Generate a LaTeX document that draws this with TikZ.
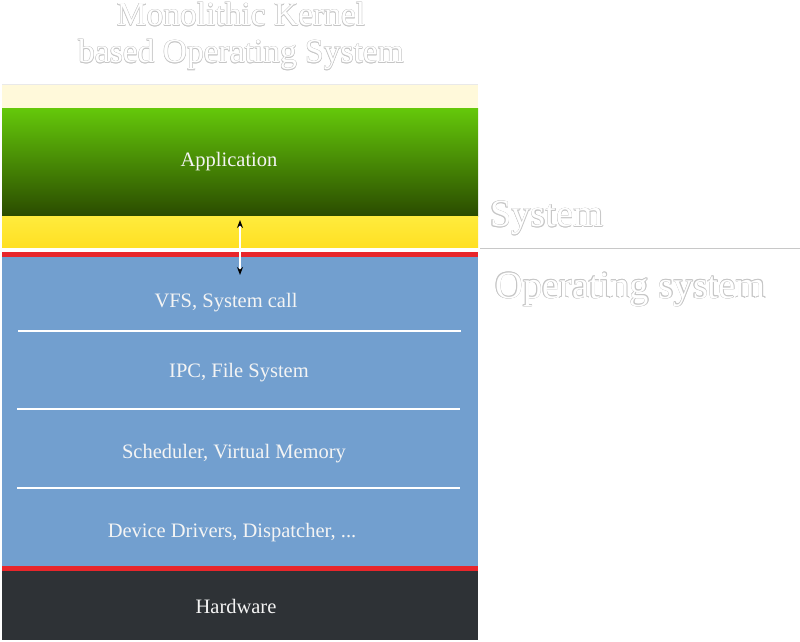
\documentclass[tikz,border=0pt]{standalone}
\usepackage{fontspec}
\setmainfont{Liberation Serif}
\usetikzlibrary{arrows.meta}
\definecolor{paleyel}{HTML}{FFF9DA}
\definecolor{greentop}{HTML}{64C70A}
\definecolor{greenbot}{HTML}{2A4A00}
\definecolor{yeltop}{HTML}{FFEB3C}
\definecolor{yelbot}{HTML}{FFE024}
\definecolor{osblue}{HTML}{729FCF}
\definecolor{osred}{HTML}{E8262B}
\definecolor{hwdark}{HTML}{2E3236}
\definecolor{txtwhite}{HTML}{F4F4F4}
\definecolor{olgray}{HTML}{C6C6C6}
\definecolor{sepgray}{HTML}{C8C8C8}
\newcommand{\olcopy}[3]{\rlap{\kern#1\raise#2\hbox{\color{olgray}#3}}}
\newcommand{\olt}[1]{\leavevmode
 \olcopy{0.45pt}{0pt}{#1}\olcopy{-0.45pt}{0pt}{#1}%
 \olcopy{0pt}{0.45pt}{#1}\olcopy{0pt}{-0.45pt}{#1}%
 \olcopy{0.32pt}{0.32pt}{#1}\olcopy{-0.32pt}{0.32pt}{#1}%
 \olcopy{0.32pt}{-0.32pt}{#1}\olcopy{-0.32pt}{-0.32pt}{#1}%
 \hbox{\color{white}#1}}
\tikzset{
  layer/.style={draw=none, inner sep=0pt, outer sep=0pt, anchor=south west, minimum width=476pt},
  lbl/.style={inner sep=0pt, anchor=base, text=txtwhite, font=\fontsize{20.5}{24}\selectfont},
  bigol/.style={inner sep=0pt, anchor=base west, font=\fontsize{38.5}{44}\selectfont},
  titleol/.style={inner sep=0pt, anchor=base, font=\fontsize{33.5}{38}\selectfont},
  sepline/.style={draw=white, line width=1.3pt},
}
\begin{document}
\begin{tikzpicture}[x=1pt,y=1pt]
\useasboundingbox (0,0) rectangle (800,641);
% layers
\node[layer, fill=paleyel, minimum height=25pt] (pale) at (2,532) {};
\draw[sepgray!40, line width=0.6pt] (pale.north west) -- (pale.north east);
\node[layer, top color=greentop, bottom color=greenbot, minimum height=108pt] (app) at (2,424) {};
\node[layer, top color=yeltop, bottom color=yelbot, minimum height=30pt] (sys) at (2,394) {};
\node[layer, fill=osred, minimum height=5pt] (redtop) at (2,384) {};
\node[layer, fill=osblue, minimum height=309pt] (os) at (2,75) {};
\node[layer, fill=osred, minimum height=5pt] (redbot) at (2,70) {};
\node[layer, fill=hwdark, minimum height=69pt] (hw) at (2,1) {};
% separators in OS
\coordinate (s1a) at (18,310); \coordinate (s1b) at (461,310);
\coordinate (s2a) at (17,232); \coordinate (s2b) at (460,232);
\coordinate (s3a) at (17,153); \coordinate (s3b) at (460,153);
\draw[sepline] (s1a) -- (s1b);
\draw[sepline] (s2a) -- (s2b);
\draw[sepline] (s3a) -- (s3b);
% gray line at right
\coordinate (gl1) at (480,393); \coordinate (gl2) at (800,393);
\draw[sepgray, line width=0.9pt] (gl1) -- (gl2);
% labels
\node[lbl] (tapp) at (229,474) {Application};
\node[lbl] (tvfs) at (226,334) {VFS, System call};
\node[lbl] (tipc) at (239,264) {IPC, File System};
\node[lbl] (tsch) at (234,183) {Scheduler, Virtual Memory};
\node[lbl] (tdev) at (232,104) {Device Drivers, Dispatcher, ...};
\node[lbl] (thw) at (236,28) {Hardware};
% arrow
\coordinate (ar1) at (240,421); \coordinate (ar2) at (240,366);
\draw[white, line width=1.3pt, {Stealth[length=8pt,width=6pt,color=black]}-{Stealth[length=8pt,width=6pt,color=black]}] (ar1) -- (ar2);
% outlined titles
\node[titleol, text height=23pt] (title1) at (241,615) {\olt{Monolithic Kernel}};
\node[titleol] (title2) at (241,578) {\olt{based Operating System}};
\node[bigol] (tsys) at (490,414) {\olt{System}};
\node[bigol] (tos) at (495,343) {\olt{Operating system}};
\end{tikzpicture}
\end{document}
